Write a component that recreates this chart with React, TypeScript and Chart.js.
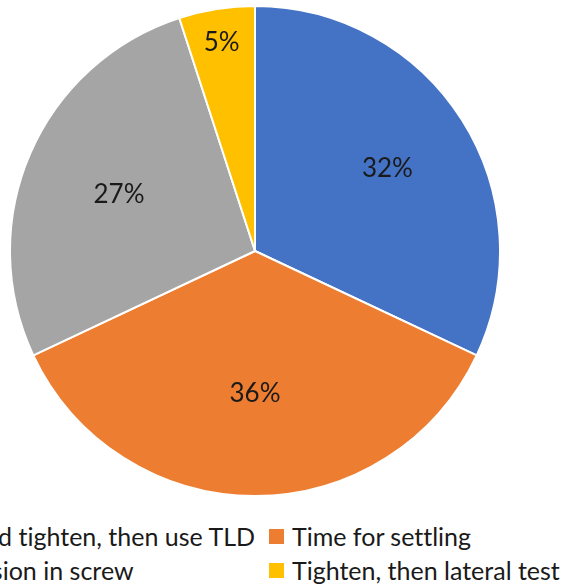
import React, { useEffect, useRef } from "react";
import { Chart, registerables } from "chart.js";

Chart.register(...registerables);

const categories = [
  "Hand tighten, then use TLD",
  "Time for settling",
  "Tension in screw",
  "Tighten, then lateral test",
];
const values = [32, 36, 27, 5];
const colors = ["#4472C4", "#ED7D31", "#A5A5A5", "#FFC000"];
// radial position of each percentage label (fraction of radius), mimicking Excel "best fit"
const labelRadius = [0.64, 0.575, 0.605, 0.87];

const FONT = "Lato, 'Open Sans', sans-serif";
const LABEL_SIZE = 26;
const LEGEND_SIZE = 25;
const TEXT_COLOR = "#1a1a1a";

const pctLabels = {
  id: "pctLabels",
  afterDatasetsDraw(chart: any) {
    const { ctx } = chart;
    const meta = chart.getDatasetMeta(0);
    const total = values.reduce((a, b) => a + b, 0);
    ctx.save();
    ctx.font = `${LABEL_SIZE}px ${FONT}`;
    ctx.fillStyle = TEXT_COLOR;
    ctx.textAlign = "center";
    ctx.textBaseline = "middle";
    meta.data.forEach((arc: any, i: number) => {
      const p = arc.getProps(["x", "y", "startAngle", "endAngle", "outerRadius"], true);
      const mid = (p.startAngle + p.endAngle) / 2;
      const r = p.outerRadius * labelRadius[i];
      const x = p.x + Math.cos(mid) * r;
      const y = p.y + Math.sin(mid) * r + 2;
      ctx.fillText(`${Math.round((values[i] / total) * 100)}%`, x, y);
    });
    ctx.restore();
  },
};

export default function App() {
  const ref = useRef<HTMLCanvasElement>(null);
  useEffect(() => {
    if (!ref.current) return;
    const chart = new Chart(ref.current, {
      type: "pie",
      data: {
        labels: categories,
        datasets: [
          {
            data: values,
            backgroundColor: colors,
            borderColor: "#ffffff",
            borderWidth: 2,
          },
        ],
      },
      options: {
        animation: false,
        responsive: true,
        maintainAspectRatio: false,
        layout: { padding: 0 },
        plugins: {
          legend: { display: false },
          tooltip: { enabled: false },
        },
      },
      plugins: [pctLabels],
    });
    return () => chart.destroy();
  }, []);

  const legendItem = (i: number) => (
    <div
      key={i}
      style={{ display: "flex", alignItems: "center", height: 34, whiteSpace: "nowrap" }}
    >
      <span
        style={{
          display: "inline-block",
          width: 15,
          height: 15,
          background: colors[i],
          marginRight: 8,
          flex: "none",
        }}
      />
      <span>{categories[i]}</span>
    </div>
  );

  return (
    <div
      style={{
        position: "fixed",
        left: 0,
        top: 0,
        width: 561,
        height: 587,
        overflow: "hidden",
        background: "#fff",
        fontFamily: FONT,
        fontSize: LEGEND_SIZE,
        color: TEXT_COLOR,
        fontVariantLigatures: "none",
      }}
    >
      <div style={{ position: "absolute", left: 9, top: 5, width: 492, height: 492 }}>
        <canvas ref={ref} />
      </div>
      <div
        style={{
          position: "absolute",
          left: -70,
          top: 519,
          display: "grid",
          gridTemplateColumns: "339px auto",
          gridAutoFlow: "row",
        }}
      >
        {legendItem(0)}
        {legendItem(1)}
        {legendItem(2)}
        {legendItem(3)}
      </div>
    </div>
  );
}
